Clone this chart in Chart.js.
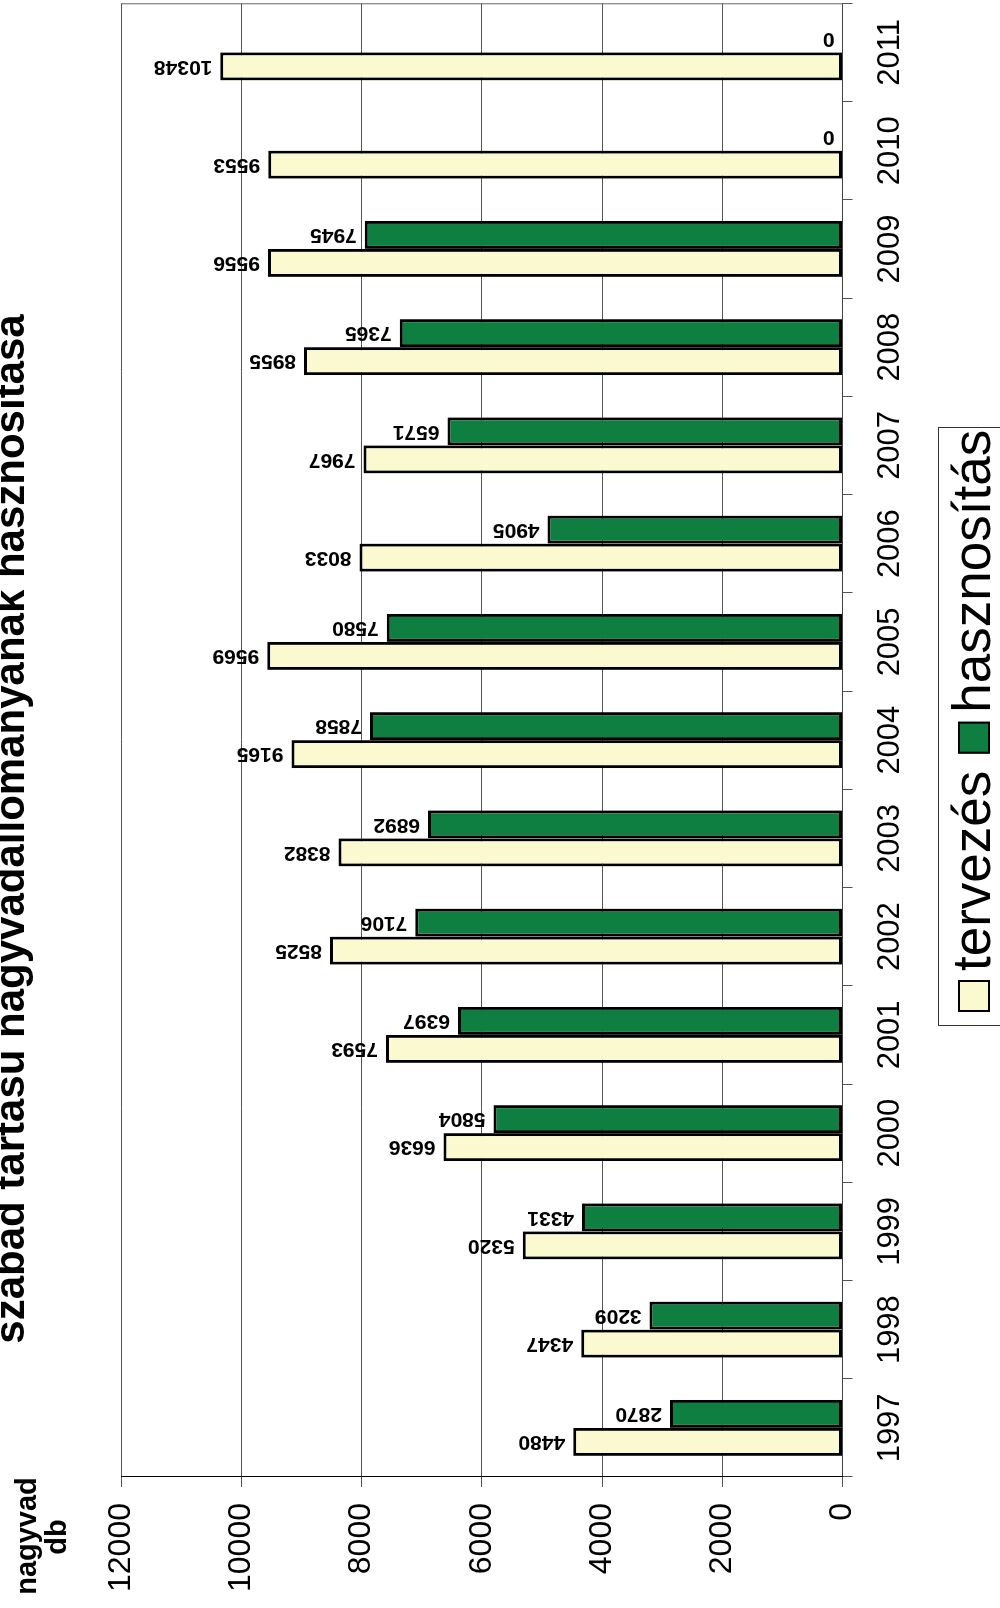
<!DOCTYPE html>
<html>
<head>
<meta charset="utf-8">
<script src="https://cdn.jsdelivr.net/npm/chart.js@4.4.0/dist/chart.umd.min.js"></script>
<style>
  html, body { margin: 0; padding: 0; background: #fff; }
  body { width: 1000px; height: 1608px; overflow: hidden; position: relative; }
  /* the chart is drawn upright and then turned a quarter left, like the scanned page */
  #wrap { position: absolute; left: 0; top: 0; width: 1608px; height: 1000px;
          transform-origin: 0 0; transform: translate(0, 1608px) rotate(-90deg); }
</style>
</head>
<body>
<div id="wrap"><canvas id="chart" width="1608" height="1000"></canvas></div>
<script>
const years = ['1997', '1998', '1999', '2000', '2001', '2002', '2003', '2004',
               '2005', '2006', '2007', '2008', '2009', '2010', '2011'];
const tervezes = [4480, 4347, 5320, 6636, 7593, 8525, 8382, 9165, 9569, 8033, 7967, 8955, 9556, 9553, 10348];
const hasznositas = [2870, 3209, 4331, 5804, 6397, 7106, 6892, 7858, 7580, 4905, 6571, 7365, 7945, 0, 0];
const yTicks = [0, 2000, 4000, 6000, 8000, 10000, 12000];

const FONT = '"Liberation Sans", Arial, sans-serif';
const YELLOW = '#fbf9d0';
const GREEN = '#0e7f40';

// value labels above each bar, turned to read upwards
const valueLabels = {
    id: 'valueLabels',
    afterDatasetsDraw(chart) {
        const ctx = chart.ctx;
        ctx.save();
        ctx.font = 'bold 21px ' + FONT;
        ctx.fillStyle = '#000';
        ctx.textAlign = 'left';
        ctx.textBaseline = 'middle';
        chart.data.datasets.forEach((ds, i) => {
            chart.getDatasetMeta(i).data.forEach((bar, j) => {
                ctx.save();
                ctx.translate(bar.x, bar.y - 8);
                ctx.rotate(-Math.PI / 2);
                ctx.fillText(String(ds.data[j]), 0, 0);
                ctx.restore();
            });
        });
        ctx.restore();
    }
};

// title, axis caption, legend box and the right edge of the frame
const extras = {
    id: 'extras',
    afterDraw(chart) {
        const ctx = chart.ctx;
        const area = chart.chartArea;
        ctx.save();

        ctx.strokeStyle = '#666';
        ctx.lineWidth = 1;
        ctx.beginPath();
        ctx.moveTo(area.right - 0.5, area.top);
        ctx.lineTo(area.right - 0.5, area.bottom);
        ctx.stroke();

        ctx.fillStyle = '#000';
        ctx.textBaseline = 'alphabetic';
        ctx.textAlign = 'center';
        ctx.font = 'bold 42px ' + FONT;
        ctx.fillText('szabad tartású nagyvadállományának hasznosítása', 779, 24);

        ctx.font = 'bold 29px ' + FONT;
        ctx.fillText('nagyvad', 72, 36);
        ctx.fillText('db', 71, 66);

        // legend
        ctx.strokeStyle = '#333';
        ctx.lineWidth = 1;
        ctx.strokeRect(582.5, 938.5, 598, 90);

        ctx.textAlign = 'left';
        ctx.font = '53px ' + FONT;
        const items = [['tervezés', YELLOW], ['hasznosítás', GREEN]];
        let x = 596;
        items.forEach(([label, color]) => {
            ctx.fillStyle = color;
            ctx.fillRect(x, 958, 32, 32);
            ctx.strokeStyle = '#000';
            ctx.lineWidth = 2;
            ctx.strokeRect(x + 1, 959, 30, 30);
            ctx.fillStyle = '#000';
            ctx.fillText(label, x + 41, 990);
            x += 41 + ctx.measureText(label).width + 17;
        });

        ctx.restore();
    }
};

const ctx = document.getElementById('chart').getContext('2d');
new Chart(ctx, {
    type: 'bar',
    data: {
        labels: years,
        datasets: [{
            label: 'tervezés',
            data: tervezes,
            backgroundColor: YELLOW,
            borderColor: '#000',
            borderWidth: 3,
            borderSkipped: false
        }, {
            label: 'hasznosítás',
            data: hasznositas,
            backgroundColor: GREEN,
            borderColor: '#000',
            borderWidth: 3,
            borderSkipped: false
        }]
    },
    options: {
        responsive: false,
        animation: false,
        devicePixelRatio: 1,
        layout: { padding: { left: 0, right: 2, top: 121, bottom: 57.5 } },
        datasets: { bar: { categoryPercentage: 0.57, barPercentage: 1 } },
        scales: {
            x: {
                grid: { drawOnChartArea: false, drawTicks: true, tickLength: 10, color: '#555', offset: true },
                border: { display: true, color: '#444', width: 1 },
                ticks: { color: '#000', font: { family: FONT, size: 31 }, padding: 19, maxRotation: 0 },
                afterFit: s => { s.height = 100; }
            },
            y: {
                min: 0,
                max: 12000,
                afterBuildTicks: s => { s.ticks = yTicks.map(v => ({ value: v })); },
                grid: { color: '#555', lineWidth: 1, tickLength: 10 },
                border: { display: true, color: '#000', width: 1 },
                ticks: {
                    color: '#000',
                    font: { family: FONT, size: 32 },
                    padding: 16,
                    callback: v => String(v)
                },
                afterFit: s => { s.width = 131; }
            }
        },
        plugins: {
            legend: { display: false },
            title: { display: false },
            tooltip: { enabled: false }
        }
    },
    plugins: [valueLabels, extras]
});
</script>
</body>
</html>
